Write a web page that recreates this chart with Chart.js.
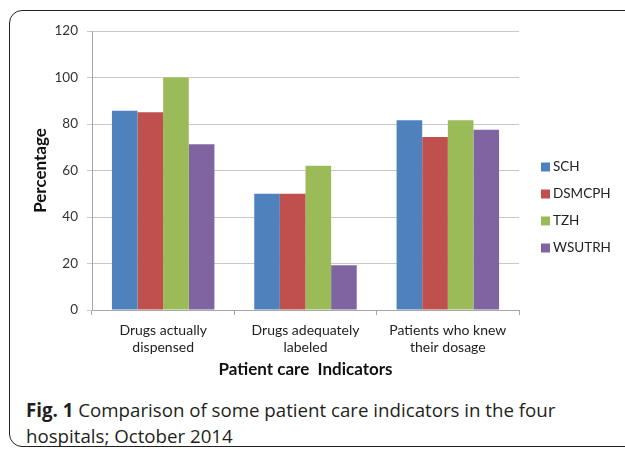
<!DOCTYPE html>
<html>
<head>
<meta charset="utf-8">
<script src="https://cdn.jsdelivr.net/npm/chart.js@4/dist/chart.umd.min.js"></script>
<style>
  body { margin: 0; width: 625px; height: 449px; overflow: hidden; background: #fff; position: relative; }
  #frame { position: absolute; left: 9px; top: 10px; width: 650px; height: 435px; border: 1.5px solid #222; border-radius: 13px; }
  #wrap { position: absolute; left: 0; top: 0; width: 625px; height: 385px; }
  #caption { position: absolute; left: 26px; top: 397px; font-family: "Open Sans", sans-serif; font-size: 18.7px; line-height: 26px; color: #231f20; }
  #caption b { font-weight: 700; }
</style>
</head>
<body>
<div id="frame"></div>
<div id="wrap"><canvas id="myChart" width="625" height="385"></canvas></div>
<div id="caption"><b>Fig. 1</b> Comparison of some patient care indicators in the four<br>hospitals; October 2014</div>
<script>
// categories (two-line labels as in the figure)
var indicators = [['Drugs actually', 'dispensed'], ['Drugs adequately', 'labeled'], ['Patients who knew', 'their dosage']];

// percentage per hospital
var sch = [85.7, 50, 81.6];
var dsmcph = [85.1, 50, 74.4];
var tzh = [100, 62, 81.6];
var wsutrh = [71.3, 19.3, 77.5];

var yTicks = [0, 20, 40, 60, 80, 100, 120];

var chartFont = 'Lato, "Open Sans", sans-serif';

// legend drawn at the right of the plot, Excel style
var sideLegend = {
    id: 'sideLegend',
    afterDraw: function (chart, args, opts) {
        var ctx = chart.ctx;
        var area = chart.chartArea;
        var sets = chart.data.datasets;
        var x = area.right + opts.gap;
        var y0 = area.top + opts.firstRow;
        ctx.save();
        ctx.font = opts.font;
        ctx.textBaseline = 'middle';
        ctx.textAlign = 'left';
        sets.forEach(function (ds, i) {
            var y = y0 + i * opts.rowHeight;
            ctx.fillStyle = ds.backgroundColor;
            ctx.fillRect(x, y - opts.box / 2, opts.box, opts.box);
            ctx.fillStyle = opts.color;
            ctx.fillText(ds.label, x + opts.box + 3, y);
        });
        ctx.restore();
    }
};

var ctx = document.getElementById('myChart').getContext('2d');
var chart = new Chart(ctx, {
    type: 'bar',
    data: {
        labels: indicators,
        datasets: [
            { label: 'SCH', data: sch, backgroundColor: '#4f81bd' },
            { label: 'DSMCPH', data: dsmcph, backgroundColor: '#c0504d' },
            { label: 'TZH', data: tzh, backgroundColor: '#9bbb59' },
            { label: 'WSUTRH', data: wsutrh, backgroundColor: '#8064a2' }
        ]
    },
    plugins: [sideLegend],
    options: {
        responsive: false,
        animation: false,
        devicePixelRatio: 1,
        categoryPercentage: 0.72,
        barPercentage: 1.0,
        layout: { padding: { left: 0, right: 106, top: 31, bottom: 0 } },
        plugins: {
            legend: { display: false },
            tooltip: { enabled: false },
            sideLegend: { gap: 22, firstRow: 136, rowHeight: 27, box: 9, font: '13.5px ' + chartFont, color: '#222' }
        },
        scales: {
            x: {
                afterFit: function (s) { s.height = 75; },
                grid: { display: true, drawOnChartArea: false, drawTicks: true, tickLength: 5, color: '#a6a6a6' },
                border: { color: '#a6a6a6' },
                ticks: { font: { family: chartFont, size: 14, lineHeight: 1.2 }, color: '#222', padding: 7, maxRotation: 0 },
                title: {
                    display: true,
                    text: 'Patient care  Indicators',
                    font: { family: chartFont, size: 17, weight: 'bold', lineHeight: 1.2 },
                    color: '#111',
                    padding: { top: 2, bottom: 5 }
                }
            },
            y: {
                min: 0,
                max: 120,
                afterFit: function (s) { s.width = 92; },
                afterBuildTicks: function (s) { s.ticks = yTicks.map(function (v) { return { value: v }; }); },
                grid: { color: '#c8c8c8', tickLength: 5 },
                border: { color: '#a6a6a6' },
                ticks: { font: { family: chartFont, size: 13.5 }, color: '#333', padding: 9 },
                title: {
                    display: true,
                    text: 'Percentage',
                    font: { family: chartFont, size: 17, weight: 'bold', lineHeight: 1.2 },
                    color: '#111',
                    padding: { top: 30, bottom: 0 }
                }
            }
        }
    }
});
</script>
</body>
</html>
